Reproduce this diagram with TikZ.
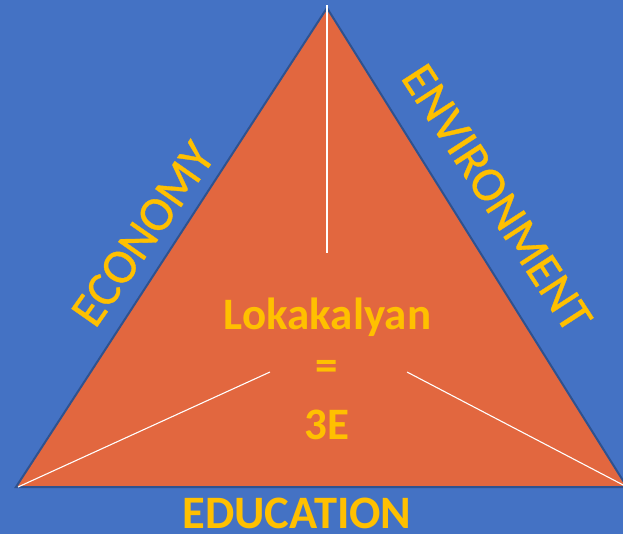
\documentclass[tikz,border=0pt]{standalone}
\usepackage{fontspec}
\setmainfont{Carlito}
\newfontfamily\sidefont{Carlito}[FakeBold=0.7]
\definecolor{bgblue}{HTML}{4472C4}
\definecolor{triorange}{HTML}{E2673F}
\definecolor{edgeblue}{HTML}{2F528F}
\definecolor{gold}{HTML}{FFC000}
\begin{document}
\begin{tikzpicture}[x=1pt,y=-1pt,
  sidelabel/.style={text=gold,inner sep=0pt,font=\sidefont\fontsize{49}{55}\selectfont},
  baselabel/.style={text=gold,inner sep=0pt,font=\bfseries\fontsize{46.5}{52}\selectfont},
  centerlabel/.style={text=gold,inner sep=0pt,font=\bfseries\fontsize{45}{50}\selectfont},
  divider/.style={draw=white,line width=1.1pt},
  tri/.style={fill=triorange,draw=edgeblue,line width=2pt,line join=miter}]
\clip (0,0) rectangle (623,534);
\fill[bgblue] (0,0) rectangle (623,534);
\coordinate (A) at (327,8);
\coordinate (B) at (16,487);
\coordinate (C) at (627,487);
\draw[tri] (A) -- (B) -- (C) -- cycle;
\coordinate (Ae) at (327,253);
\coordinate (Be) at (270,372);
\coordinate (Ce) at (407,372);
\draw[divider] ([yshift=3pt]A) -- (Ae);
\draw[divider] ([xshift=2pt]B) -- (Be);
\draw[divider] (C) -- (Ce);
% centre text
\node[centerlabel,anchor=base] (lok) at (327.5,329) {Lokakalyan};
\node[centerlabel] (eq) at (327,370) {=};
\node[centerlabel,anchor=base] (three) at (327,439) {3E};
% side labels
\node[sidelabel,rotate=55] (eco) at (143,234) {ECONOMY};
\node[sidelabel,rotate=-57] (env) at (497,198) {ENVIRONMENT};
\node[baselabel,anchor=base] (edu) at (297,528) {EDUCATION};
\end{tikzpicture}
\end{document}
